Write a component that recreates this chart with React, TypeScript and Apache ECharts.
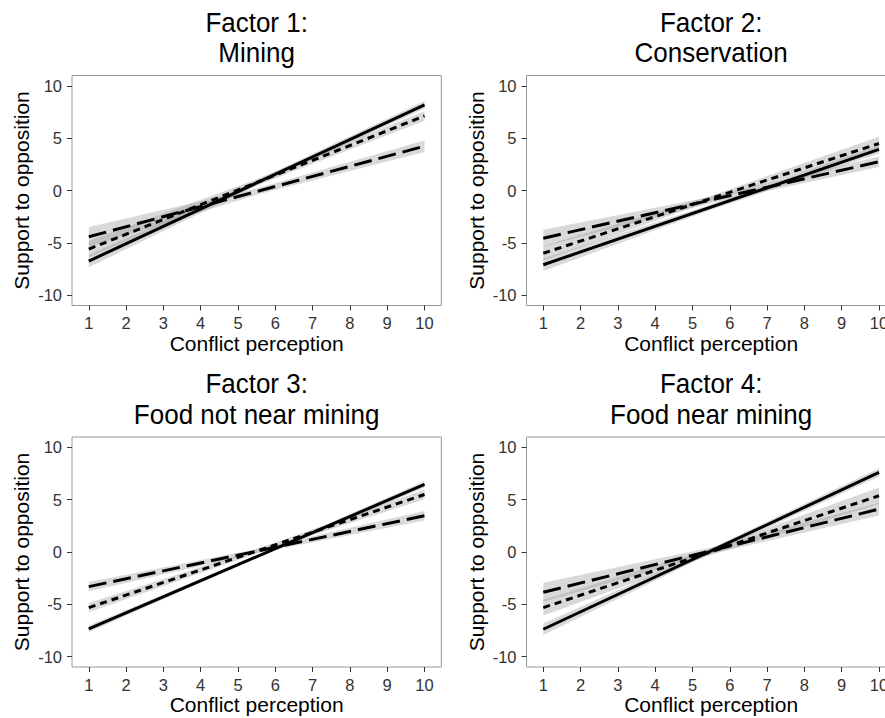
import React, { useEffect, useRef } from "react";
import * as echarts from "echarts";

// ---- data ----
const X_TICKS = [1, 2, 3, 4, 5, 6, 7, 8, 9, 10];
const Y_TICKS = [-10, -5, 0, 5, 10];
const X_POINTS = [1, 5.5, 10];

const PANEL_TITLES = [
  "Factor 1:\nMining",
  "Factor 2:\nConservation",
  "Factor 3:\nFood not near mining",
  "Factor 4:\nFood near mining",
];

// line values at x = 1, 5.5, 10 (solid / short dash / long dash)
const f1Solid = [-6.75, 0.72, 8.2];
const f1Short = [-5.6, 0.77, 7.13];
const f1Long = [-4.43, -0.1, 4.24];
const f2Solid = [-7.1, -1.6, 3.93];
const f2Short = [-6.0, -0.75, 4.5];
const f2Long = [-4.56, -0.9, 2.75];
const f3Solid = [-7.36, -0.45, 6.47];
const f3Short = [-5.32, 0.09, 5.5];
const f3Long = [-3.31, 0.08, 3.47];
const f4Solid = [-7.39, 0.1, 7.61];
const f4Short = [-5.32, 0.03, 5.38];
const f4Long = [-3.85, 0.12, 4.1];

// confidence band half-widths at x = 1, 5.5, 10
const f1SolidSE = [0.6, 0.25, 0.35];
const f1ShortSE = [0.8, 0.3, 0.45];
const f1LongSE = [0.95, 0.3, 0.55];
const f2SolidSE = [0.6, 0.25, 0.4];
const f2ShortSE = [0.7, 0.25, 0.65];
const f2LongSE = [0.8, 0.3, 0.5];
const f3SolidSE = [0.3, 0.15, 0.3];
const f3ShortSE = [0.45, 0.2, 0.45];
const f3LongSE = [0.45, 0.2, 0.45];
const f4SolidSE = [0.55, 0.25, 0.4];
const f4ShortSE = [0.75, 0.3, 0.8];
const f4LongSE = [0.9, 0.3, 0.6];

const PANELS = [
  { lines: [f1Solid, f1Short, f1Long], se: [f1SolidSE, f1ShortSE, f1LongSE] },
  { lines: [f2Solid, f2Short, f2Long], se: [f2SolidSE, f2ShortSE, f2LongSE] },
  { lines: [f3Solid, f3Short, f3Long], se: [f3SolidSE, f3ShortSE, f3LongSE] },
  { lines: [f4Solid, f4Short, f4Long], se: [f4SolidSE, f4ShortSE, f4LongSE] },
];

const LINE_TYPES: any[] = ["solid", [7, 5], [18, 7]];

const FONT = "'Liberation Sans', Arial, Helvetica, sans-serif";

const GRIDS = [
  { left: 72, top: 75.5 },
  { left: 526.5, top: 75.5 },
  { left: 72, top: 437 },
  { left: 526.5, top: 437 },
];
const GW = 369.3;
const GH = 230;

export default function App() {
  const ref = useRef<HTMLDivElement>(null);
  useEffect(() => {
    if (!ref.current) return;
    const chart = echarts.init(ref.current, null, { renderer: "svg" });

    const grid = GRIDS.map((g) => ({
      left: g.left,
      top: g.top,
      right: 885 - g.left - GW,
      bottom: 718 - g.top - GH,
      show: true,
      borderColor: "#999",
      borderWidth: 1,
      backgroundColor: "#fff",
      containLabel: false,
      outerBoundsMode: "none",
    }));

    const xAxis = GRIDS.map((_, i) => ({
      type: "value",
      gridIndex: i,
      min: 0.55,
      max: 10.45,
      name: "Conflict perception",
      nameLocation: "middle",
      nameGap: 27,
      nameTextStyle: { fontSize: 21, color: "#000", fontFamily: FONT },
      axisLine: { show: false, onZero: false },
      splitLine: { show: false },
      axisTick: {
        show: true,
        length: 5,
        customValues: X_TICKS,
        lineStyle: { color: "#333", width: 1 },
      },
      axisLabel: {
        customValues: X_TICKS,
        fontSize: 16.5,
        color: "#333",
        fontFamily: FONT,
        margin: 9,
        hideOverlap: false,
      },
    }));

    const yAxis = GRIDS.map((_, i) => ({
      type: "value",
      gridIndex: i,
      min: -11,
      max: 11,
      name: "Support to opposition",
      nameLocation: "middle",
      nameGap: 40,
      nameTextStyle: { fontSize: 21, color: "#000", fontFamily: FONT },
      axisLine: { show: false, onZero: false },
      splitLine: { show: false },
      axisTick: {
        show: true,
        length: 5,
        customValues: Y_TICKS,
        lineStyle: { color: "#333", width: 1 },
      },
      axisLabel: {
        customValues: Y_TICKS,
        fontSize: 16.5,
        color: "#333",
        fontFamily: FONT,
        margin: 10,
      },
    }));

    const series: any[] = [];
    PANELS.forEach((p, i) => {
      p.lines.forEach((vals, k) => {
        const se = p.se[k];
        series.push({
          type: "custom",
          xAxisIndex: i,
          yAxisIndex: i,
          coordinateSystem: "cartesian2d",
          clip: true,
          silent: true,
          z: 1,
          data: [[X_POINTS[0], vals[0]]],
          renderItem: (_params: any, api: any) => {
            const upper = X_POINTS.map((x, j) => api.coord([x, vals[j] + se[j]]));
            const lower = X_POINTS.map((x, j) => api.coord([x, vals[j] - se[j]])).reverse();
            return {
              type: "polygon",
              shape: { points: upper.concat(lower) },
              style: { fill: "rgba(150,150,150,0.36)", stroke: "none" },
            };
          },
        });
      });
    });
    PANELS.forEach((p, i) => {
      p.lines.forEach((vals, k) => {
        series.push({
          type: "line",
          xAxisIndex: i,
          yAxisIndex: i,
          z: 3,
          showSymbol: false,
          silent: true,
          clip: true,
          data: [
            [X_POINTS[0], vals[0]],
            [X_POINTS[2], vals[2]],
          ],
          lineStyle: { color: "#000", width: 3, type: LINE_TYPES[k], cap: "butt" },
        });
      });
    });

    const graphic = GRIDS.map((g, i) => ({
      type: "text",
      x: g.left + GW / 2,
      y: g.top - 7.5,
      scaleY: 1.08,
      style: {
        text: PANEL_TITLES[i],
        fontSize: 26,
        lineHeight: 28,
        fontFamily: FONT,
        fill: "#000",
        align: "center",
        verticalAlign: "bottom",
      },
    }));

    chart.setOption({
      animation: false,
      backgroundColor: "#fff",
      grid,
      xAxis,
      yAxis,
      series,
      graphic,
    });
    return () => chart.dispose();
  }, []);

  return (
    <div
      ref={ref}
      style={{ position: "absolute", left: 0, top: 0, width: 885, height: 718 }}
    />
  );
}
